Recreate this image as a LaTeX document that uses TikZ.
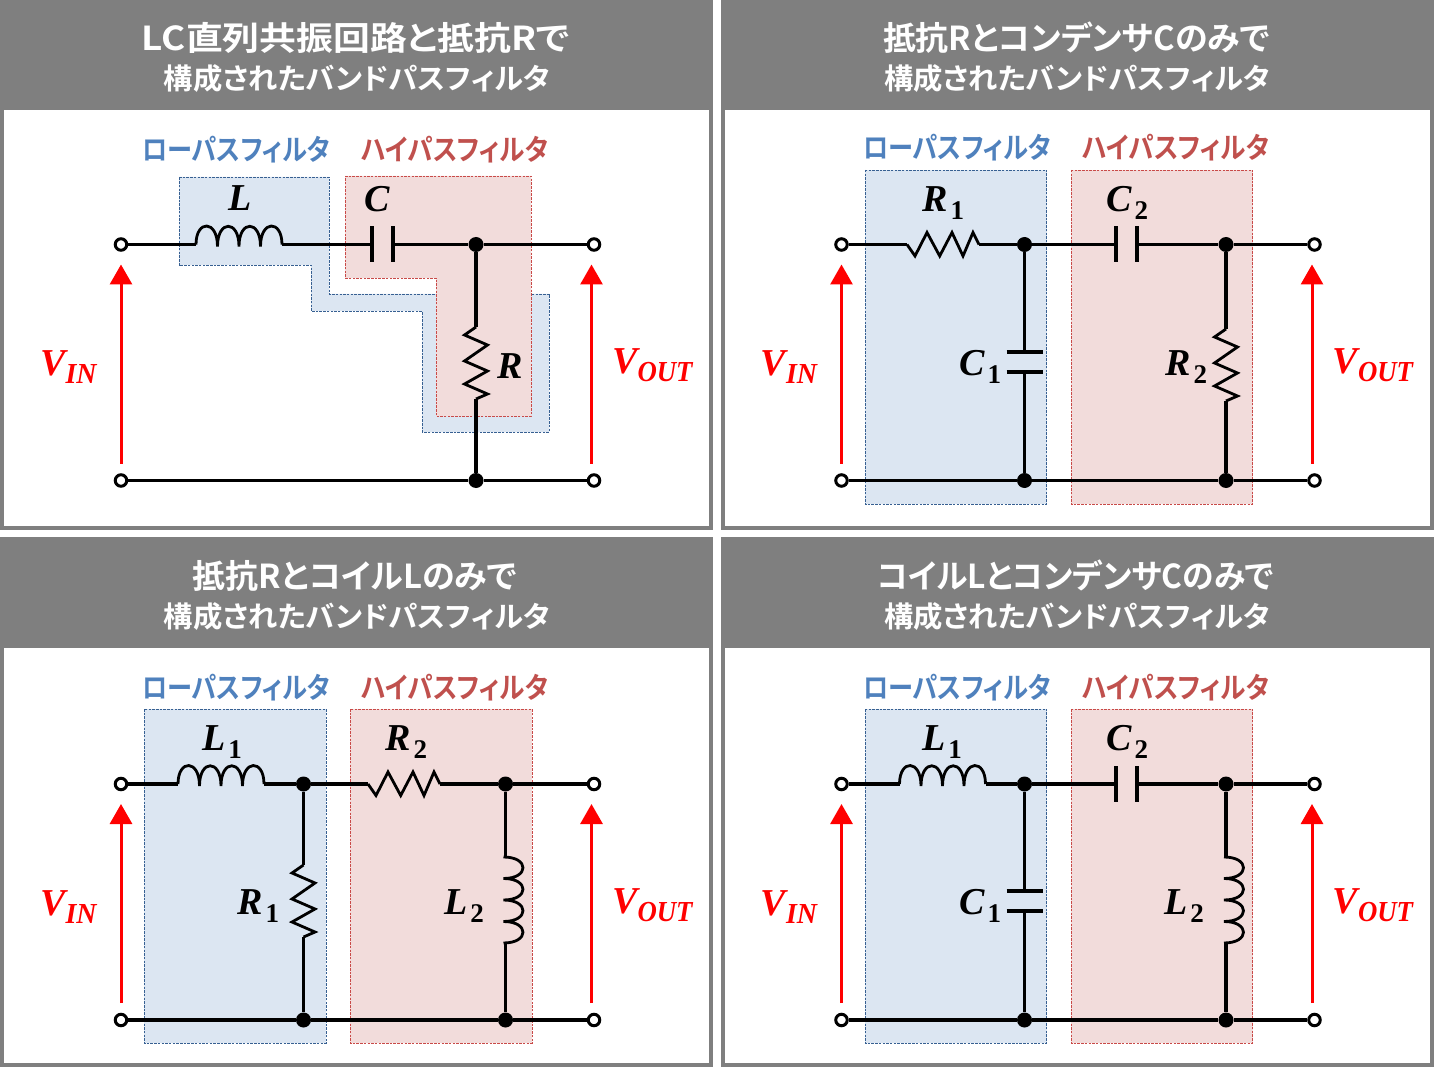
\documentclass[tikz,border=0pt]{standalone}
\usepackage{fontspec}
\usetikzlibrary{arrows.meta}
\newfontfamily\jpf{Noto Sans CJK JP}[BoldFont={Noto Sans CJK JP Bold},RawFeature={+palt}]
\newfontfamily\mathbi{Liberation Serif Bold Italic}
\newfontfamily\mathbd{Liberation Serif Bold}
\definecolor{pgray}{HTML}{7F7F7F}
\definecolor{bfill}{HTML}{DCE6F2}
\definecolor{bline}{HTML}{376092}
\definecolor{rfill}{HTML}{F2DCDB}
\definecolor{rline}{HTML}{C94A48}
\definecolor{btext}{HTML}{4F81BD}
\definecolor{rtext}{HTML}{C0504D}
\tikzset{
  x=1pt,y=-1pt,
  wire/.style={line width=3.2pt,black},
  comp/.style={line width=2.8pt,black,line join=miter},
  bbox/.style={fill=bfill,draw=bline,line width=0.8pt,dash pattern=on 2.5pt off 1.2pt},
  rbox/.style={fill=rfill,draw=rline,line width=0.8pt,dash pattern=on 2.5pt off 1.2pt},
  term/.style={circle,draw=black,fill=white,line width=3pt,minimum size=11.5pt,inner sep=0pt},
  junc/.style={circle,fill=black,minimum size=15pt,inner sep=0pt},
  sig/.style={line width=3pt,red,-{Triangle[length=20pt,width=22pt]}},
  ttl/.style={anchor=base,inner sep=0pt,text=white},
  sub/.style={anchor=base west,inner sep=0pt},
  lab/.style={anchor=base west,inner sep=0pt,text=black},
  vlab/.style={anchor=base west,inner sep=0pt,text=red},
}
\newcommand\panelbox[3]{%
  \fill[pgray] (#1,#2) rectangle ++(713,#3);
  \fill[white] (#1+4,#2+110.5) rectangle (#1+709,#2+#3-4);
}
\newcommand\ttlnode[6]{\node[ttl] (#1) at (#2,#3) {\resizebox{#4pt}{\height}{\fontsize{#5}{#5}\jpf\bfseries #6}};}
\newcommand\subnode[6]{\node[sub,text=#4] (#1) at (#2,#3) {\resizebox{#6pt}{\height}{\fontsize{29}{29}\jpf\bfseries #5}};}
\newcommand\complab[5]{\node[lab] (#1) at (#2-2,#3) {\fontsize{38}{38}\mathbi #4\hspace{3pt}\raisebox{-8pt}{\fontsize{27}{27}\mathbd #5}};}
\newcommand\siglab[6]{\node[vlab] (#1) at (#2-2,#3) {\fontsize{38}{38}\mathbi #4\raisebox{-8pt}{\resizebox{#6pt}{\height}{\fontsize{29}{29}\mathbi #5}}};}
\newcommand\indH[3]{\begin{scope}[shift={(#2,#3)}]
  \coordinate (#1a) at (0,0); \coordinate (#1b) at (86,0);
  \draw[comp] (0,0) .. controls (0,-25) and (21.5,-25) .. (21.5,2)
     .. controls (21.5,-25) and (43,-25) .. (43,2)
     .. controls (43,-25) and (64.5,-25) .. (64.5,2)
     .. controls (64.5,-25) and (86,-25) .. (86,0);
  \end{scope}}
\newcommand\indV[3]{\begin{scope}[shift={(#2,#3)}]
  \coordinate (#1a) at (0,0); \coordinate (#1b) at (0,86);
  \draw[comp] (-2,0) .. controls (24,0) and (24,21.5) .. (-2,21.5)
     .. controls (24,21.5) and (24,43) .. (-2,43)
     .. controls (24,43) and (24,64.5) .. (-2,64.5)
     .. controls (24,64.5) and (24,86) .. (-2,86);
  \end{scope}}
\newcommand\resH[3]{\begin{scope}[shift={(#2,#3)}]
  \coordinate (#1a) at (0,0); \coordinate (#1b) at (72,0);
  \draw[comp] (0,0) -- (8,11.5) -- (20,-12) -- (32.7,11.5) -- (45,-12) -- (56,11.5) -- (66,-12) -- (72,0);
  \end{scope}}
\newcommand\resV[3]{\begin{scope}[shift={(#2,#3)}]
  \coordinate (#1a) at (0,0); \coordinate (#1b) at (0,72);
  \draw[comp] (0,0) -- (-11.5,8) -- (11.5,18) -- (-11.5,34) -- (11.5,44) -- (-11.5,57) -- (11.5,67) -- (0,72);
  \end{scope}}
\newcommand\capH[3]{\begin{scope}[shift={(#2,#3)}]
  \coordinate (#1a) at (0,0); \coordinate (#1b) at (21,0);
  \draw[wire] (0,-18) -- (0,18); \draw[wire] (21,-18) -- (21,18);
  \end{scope}}
\newcommand\capV[3]{\begin{scope}[shift={(#2,#3)}]
  \coordinate (#1a) at (0,0); \coordinate (#1b) at (0,20);
  \draw[wire] (-18,0) -- (18,0); \draw[wire] (-18,20) -- (18,20);
  \end{scope}}
% terminals, arrows, voltage labels common to each panel
\newcommand\frameparts[4]{% prefix, x offset, top y, bottom y
  \node[term] (#1tl) at (#2+121,#3) {};
  \node[term] (#1tr) at (#2+594,#3) {};
  \node[term] (#1bl) at (#2+121,#4) {};
  \node[term] (#1br) at (#2+594,#4) {};
  \coordinate (#1as) at (#2+121,#4-17);
  \coordinate (#1ae) at (#2+121,#3+20);
  \coordinate (#1bs) at (#2+591.5,#4-17);
  \coordinate (#1be) at (#2+591.5,#3+20);
  \draw[sig] (#1as) -- (#1ae);
  \draw[sig] (#1bs) -- (#1be);
  \siglab{#1vi}{#2+42}{#3+131}{V}{IN}{31}
  \siglab{#1vo}{#2+614}{#3+129}{V}{OUT}{55}
}
\begin{document}
\begin{tikzpicture}
\useasboundingbox (0,0) rectangle (1438,1067);
\fill[white] (0,0) rectangle (1438,1067);
\panelbox{0}{0}{530}
\panelbox{721}{0}{530}
\panelbox{0}{537}{530}
\panelbox{721}{537}{530}
% titles
\ttlnode{t1a}{356}{51}{428}{33}{LC直列共振回路と抵抗Rで}
\ttlnode{t1b}{357}{90}{386}{29}{構成されたバンドパスフィルタ}
\ttlnode{t2a}{1076.5}{51}{387}{33}{抵抗RとコンデンサCのみで}
\ttlnode{t2b}{1077}{90}{386}{29}{構成されたバンドパスフィルタ}
\ttlnode{t3a}{355}{588}{324}{33}{抵抗RとコイルLのみで}
\ttlnode{t3b}{357}{627}{386}{29}{構成されたバンドパスフィルタ}
\ttlnode{t4a}{1075.5}{588}{397}{33}{コイルLとコンデンサCのみで}
\ttlnode{t4b}{1077}{627}{386}{29}{構成されたバンドパスフィルタ}
% filter captions
\subnode{s1l}{142}{161}{btext}{ローパスフィルタ}{188}
\subnode{s1h}{361}{161}{rtext}{ハイパスフィルタ}{187}
\subnode{s2l}{863}{159}{btext}{ローパスフィルタ}{188}
\subnode{s2h}{1082}{159}{rtext}{ハイパスフィルタ}{187}
\subnode{s3l}{142}{698}{btext}{ローパスフィルタ}{188}
\subnode{s3h}{361}{698}{rtext}{ハイパスフィルタ}{187}
\subnode{s4l}{863}{698}{btext}{ローパスフィルタ}{188}
\subnode{s4h}{1082}{698}{rtext}{ハイパスフィルタ}{187}
% shaded regions
\draw[bbox] (179,177) -- (329,177) -- (329,294) -- (549,294) -- (549,432) -- (422,432) -- (422,311) -- (311,311) -- (311,265) -- (179,265) -- cycle;
\draw[rbox] (345,176) -- (531,176) -- (531,416) -- (436,416) -- (436,278) -- (345,278) -- cycle;
\draw[bbox] (865,170) rectangle (1046.5,504);
\draw[rbox] (1071,170) rectangle (1252.5,504);
\draw[bbox] (144,709) rectangle (326,1043);
\draw[rbox] (350,709) rectangle (532,1043);
\draw[bbox] (865,709) rectangle (1046.5,1043);
\draw[rbox] (1071,709) rectangle (1252.5,1043);
% panel 1
\frameparts{a}{0}{244.5}{480.5}
\node[junc] (aj1) at (476,244.5) {};
\node[junc] (aj2) at (476,480.5) {};
\indH{aL}{196}{244.5}
\capH{aC}{372}{244.5}
\resV{aR}{476}{327}
\draw[wire] (atl) -- (aLa);
\draw[wire] (aLb) -- (aCa);
\draw[wire] (aCb) -- (aj1);
\draw[wire] (aj1) -- (atr);
\draw[wire] (aj1) -- (aRa);
\draw[wire] (aRb) -- (aj2);
\draw[wire] (abl) -- (aj2);
\draw[wire] (aj2) -- (abr);
\complab{alL}{230}{211}{L}{}
\complab{alC}{366}{212}{C}{}
\complab{alR}{499}{378}{R}{}
% panel 2
\frameparts{b}{720.5}{244.5}{480.5}
\node[junc] (bj1) at (1024.5,244.5) {};
\node[junc] (bj2) at (1226,244.5) {};
\node[junc] (bj3) at (1024.5,480.5) {};
\node[junc] (bj4) at (1226,480.5) {};
\resH{bR}{907}{244.5}
\capH{bC}{1116}{244.5}
\capV{bD}{1024.5}{352}
\resV{bS}{1226}{329}
\draw[wire] (btl) -- (bRa);
\draw[wire] (bRb) -- (bj1);
\draw[wire] (bj1) -- (bCa);
\draw[wire] (bCb) -- (bj2);
\draw[wire] (bj2) -- (btr);
\draw[wire] (bj1) -- (bDa);
\draw[wire] (bDb) -- (bj3);
\draw[wire] (bj2) -- (bSa);
\draw[wire] (bSb) -- (bj4);
\draw[wire] (bbl) -- (bj3);
\draw[wire] (bj3) -- (bj4);
\draw[wire] (bj4) -- (bbr);
\complab{blR}{924}{212}{R}{1}
\complab{blC}{1108}{212}{C}{2}
\complab{blD}{961}{375}{C}{1}
\complab{blS}{1167}{375}{R}{2}
% panel 3
\frameparts{c}{0}{784}{1020}
\node[junc] (cj1) at (303.5,784) {};
\node[junc] (cj2) at (505.5,784) {};
\node[junc] (cj3) at (303.5,1020) {};
\node[junc] (cj4) at (505.5,1020) {};
\indH{cL}{178}{784}
\resH{cR}{368}{784}
\resV{cS}{303.5}{865}
\indV{cM}{505.5}{857}
\draw[wire] (ctl) -- (cLa);
\draw[wire] (cLb) -- (cj1);
\draw[wire] (cj1) -- (cRa);
\draw[wire] (cRb) -- (cj2);
\draw[wire] (cj2) -- (ctr);
\draw[wire] (cj1) -- (cSa);
\draw[wire] (cSb) -- (cj3);
\draw[wire] (cj2) -- (cMa);
\draw[wire] (cMb) -- (cj4);
\draw[wire] (cbl) -- (cj3);
\draw[wire] (cj3) -- (cj4);
\draw[wire] (cj4) -- (cbr);
\complab{clL}{204}{750}{L}{1}
\complab{clR}{387}{750}{R}{2}
\complab{clS}{239}{914}{R}{1}
\complab{clM}{446}{914}{L}{2}
% panel 4
\frameparts{d}{720.5}{784}{1020}
\node[junc] (dj1) at (1024.5,784) {};
\node[junc] (dj2) at (1226,784) {};
\node[junc] (dj3) at (1024.5,1020) {};
\node[junc] (dj4) at (1226,1020) {};
\indH{dL}{899.5}{784}
\capH{dC}{1116}{784}
\capV{dD}{1024.5}{891}
\indV{dM}{1226}{857}
\draw[wire] (dtl) -- (dLa);
\draw[wire] (dLb) -- (dj1);
\draw[wire] (dj1) -- (dCa);
\draw[wire] (dCb) -- (dj2);
\draw[wire] (dj2) -- (dtr);
\draw[wire] (dj1) -- (dDa);
\draw[wire] (dDb) -- (dj3);
\draw[wire] (dj2) -- (dMa);
\draw[wire] (dMb) -- (dj4);
\draw[wire] (dbl) -- (dj3);
\draw[wire] (dj3) -- (dj4);
\draw[wire] (dj4) -- (dbr);
\complab{dlL}{924}{750}{L}{1}
\complab{dlC}{1108}{750}{C}{2}
\complab{dlD}{961}{914}{C}{1}
\complab{dlM}{1166}{914}{L}{2}
\end{tikzpicture}
\end{document}
